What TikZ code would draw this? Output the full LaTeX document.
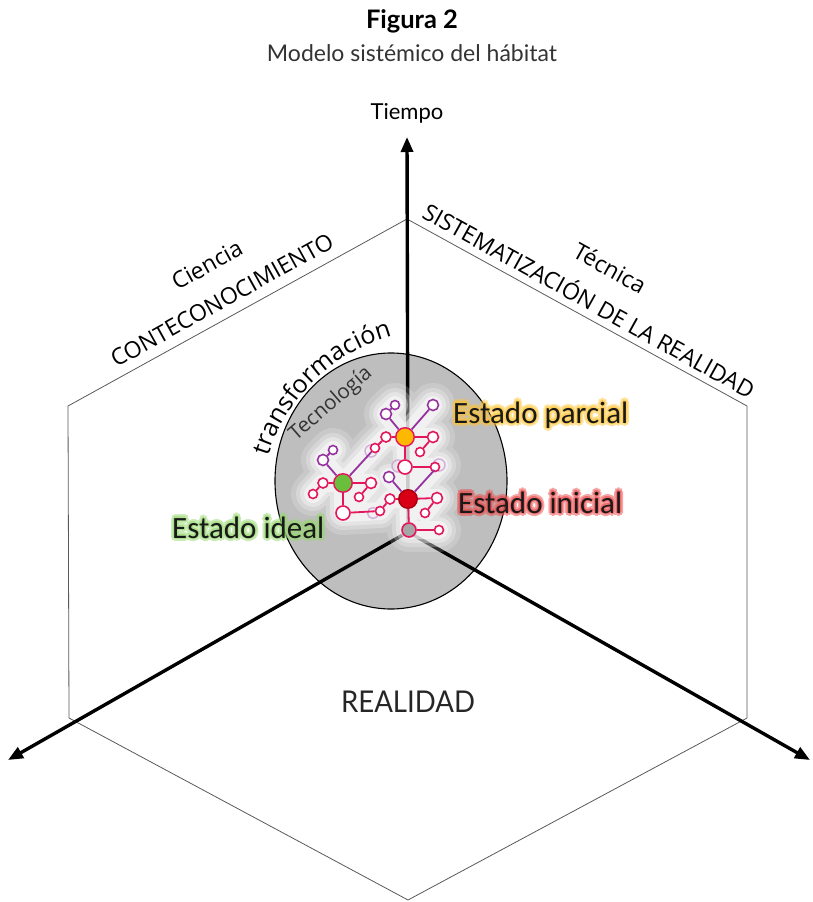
\documentclass[tikz,border=0pt]{standalone}
\usepackage{fontspec}
\setmainfont{Lato}
\newfontfamily\osf{Open Sans}
\newfontfamily\carf{Carlito}
\usetikzlibrary{arrows.meta,decorations.text}
\definecolor{diskgray}{RGB}{190,190,190}
\definecolor{netpink}{RGB}{228,22,92}
\definecolor{netpurple}{RGB}{150,50,160}
\definecolor{faintlilac}{RGB}{200,150,210}
\definecolor{ogold}{RGB}{255,184,0}
\definecolor{ired}{RGB}{215,0,20}
\definecolor{igreen}{RGB}{105,190,60}
\definecolor{glowgold}{RGB}{255,195,50}
\definecolor{glowred}{RGB}{235,70,70}
\definecolor{glowgreen}{RGB}{150,215,110}
\newcommand{\glowlabel}[4]{%
  \begin{scope}[transparency group, opacity=0.5]
  \foreach \ang in {0,45,...,315} {%
    \node[estado, text=#2, shift={(\ang:3.2pt)}] at (#1) {#3};
  }%
  \end{scope}
  \begin{scope}[transparency group, opacity=0.6]
  \foreach \ang in {22,112,202,292} {%
    \node[estado, text=#2, shift={(\ang:1.6pt)}] at (#1) {#3};
  }%
  \end{scope}
  \node[estado] (#4) at (#1) {#3};
}
\newcommand{\netglow}{(coP2) -- (coP1) -- (cO) -- (coP3) (cO) -- (coM1) -- (coM2) (cO) -- (coL1) -- (coL2) -- (cG)
 (cO) -- (cR) -- (crW1) -- (crW2) (coW1) -- (coW2) (cR) -- (crP1) (cR) -- (coWf2) (cR) -- (crM1) -- (crM2) (cR) -- (crL1) -- (crL2) -- (cgW1)
 (cG) -- (cgP1) -- (cgP2) (cG) -- (cgL1) -- (cgL2) (cG) -- (cgM1) -- (cgM2) (cG) -- (cgW1)}
\begin{document}
\begin{tikzpicture}[x=1pt,y=-1pt,
  hexline/.style={draw=black!65, line width=0.8pt},
  axis/.style={line width=3.4pt, -{Triangle[length=15pt,width=12pt]}},
  hexlabel/.style={font=\osf\fontsize{23}{27}\selectfont, inner sep=0pt},
  estado/.style={font=\carf\fontsize{31}{36}\selectfont, inner sep=0pt, anchor=base west, text=black!90},
  bignode/.style={circle, draw=netpink, line width=1.4pt, minimum size=18.5pt, inner sep=0pt},
  pnode/.style={circle, draw=netpink, fill=white, line width=1.6pt, minimum size=#1, inner sep=0pt},
  vnode/.style={circle, draw=netpurple, fill=white, line width=1.6pt, minimum size=#1, inner sep=0pt},
  fnode/.style={circle, draw=faintlilac, line width=1.5pt, minimum size=#1, inner sep=0pt, opacity=0.7},
  pedge/.style={draw=netpink, line width=1.8pt},
  vedge/.style={draw=netpurple, line width=1.8pt},
  glowline/.style={draw=white, line cap=round, line join=round}
]
\useasboundingbox (0,0) rectangle (812,902);
% title
\node[font=\bfseries\fontsize{25.5}{30}\selectfont, anchor=base] (fig) at (412,28) {Figura 2};
\node[font=\fontsize{23}{27}\selectfont, text=black!80, anchor=base] (sub) at (412,61) {Modelo sistémico del hábitat};
% hexagon
\coordinate (hT) at (407,219);
\coordinate (hUL) at (68,406);
\coordinate (hLL) at (69,718);
\coordinate (hB) at (408,900);
\coordinate (hLR) at (747,718);
\coordinate (hUR) at (747,406);
\draw[hexline] (hT) -- (hUL) -- (hLL) -- (hB) -- (hLR) -- (hUR) -- cycle;
% hexagon labels
\node[hexlabel, rotate=29] (cien) at (207,265) {Ciencia};
\node[hexlabel, rotate=29] (conte) at (222,300) {CONTECONOCIMIENTO};
\node[hexlabel, rotate=-29] (tecn) at (610,268) {Técnica};
\node[hexlabel, rotate=-29] (siste) at (590,299) {SISTEMATIZACIÓN DE LA REALIDAD};
\node[font=\fontsize{30}{34}\selectfont, anchor=base, xscale=0.92, text=black!85] (real) at (408,712) {REALIDAD};
% disk
\draw[fill=diskgray, line width=1.1pt] (391,481) ellipse [x radius=116pt, y radius=128pt];
% transformacion
\path[decorate, decoration={text along path, text align=center,
  text={|\osf\fontsize{25}{30}\selectfont|transformación}}]
  ([shift={(168:180pt)}]440,510) arc[start angle=168, end angle=100, radius=180pt];
\node[font=\osf\fontsize{20.5}{24}\selectfont, text=black!80, rotate=41] (tecno) at (331,404) {Tecnología};
% axes
\coordinate (o) at (408,532);
\coordinate (tUp) at (407,137);
\coordinate (tL) at (8,760);
\coordinate (tR) at (810,760);
\draw[axis] (o) -- (tUp);
\draw[axis] (o) -- (tL);
\draw[axis] (o) -- (tR);
\node[font=\fontsize{22}{26}\selectfont, anchor=base] (tiempo) at (407,119) {Tiempo};
% network coordinates
\coordinate (cO) at (405,437);
\coordinate (cR) at (408,499);
\coordinate (cG) at (343,483);
\coordinate (coP1) at (386,414); \coordinate (coP2) at (395,405); \coordinate (coP3) at (433,405);
\coordinate (coM1) at (433,437); \coordinate (coM2) at (420,452);
\coordinate (coL1) at (386,437); \coordinate (coL2) at (375,448); \coordinate (coF) at (371,451);
\coordinate (coW1) at (405,467); \coordinate (coW2) at (435,467);
\coordinate (coWf1) at (398,466); \coordinate (coWf2) at (439,465);
\coordinate (crP1) at (389,477);
\coordinate (crM1) at (437,498); \coordinate (crM2) at (425,513);
\coordinate (crL1) at (390,499); \coordinate (crL2) at (380,511);
\coordinate (crW1) at (409,530); \coordinate (crW2) at (439,530);
\coordinate (cgP1) at (323,460); \coordinate (cgP2) at (333,450);
\coordinate (cgL1) at (323,483); \coordinate (cgL2) at (313,494);
\coordinate (cgM1) at (371,483); \coordinate (cgM2) at (359,497);
\coordinate (cgW1) at (343,513); \coordinate (cgWf) at (373,513);
% glow
\begin{scope}[transparency group, opacity=0.18]
\draw[glowline, line width=44pt] \netglow;
\end{scope}
\begin{scope}[transparency group, opacity=0.25]
\draw[glowline, line width=34pt] \netglow;
\end{scope}
\begin{scope}[transparency group, opacity=0.35]
\draw[glowline, line width=26pt] \netglow;
\end{scope}
\begin{scope}[transparency group, opacity=0.5]
\draw[glowline, line width=18pt] \netglow;
\end{scope}
% faint nodes
\node[fnode=12pt] (oF) at (coF) {};
\node[fnode=12pt] (oWf1) at (coWf1) {};
\node[fnode=12pt] (oWf2) at (coWf2) {};
\node[fnode=11pt] (gWf) at (cgWf) {};
% nodes
\node[bignode, fill=ogold] (O) at (cO) {};
\node[bignode, fill=ired, draw=ired!80!black] (R) at (cR) {};
\node[bignode, fill=igreen] (G) at (cG) {};
\node[vnode=11pt] (oP1) at (coP1) {};
\node[vnode=9pt] (oP2) at (coP2) {};
\node[vnode=11pt] (oP3) at (coP3) {};
\node[pnode=11pt] (oM1) at (coM1) {};
\node[pnode=9pt] (oM2) at (coM2) {};
\node[pnode=10pt] (oL1) at (coL1) {};
\node[pnode=9pt] (oL2) at (coL2) {};
\node[pnode=14pt] (oW1) at (coW1) {};
\node[pnode=9pt] (oW2) at (coW2) {};
\node[vnode=11pt] (rP1) at (crP1) {};
\node[pnode=11pt] (rM1) at (crM1) {};
\node[pnode=9pt] (rM2) at (crM2) {};
\node[pnode=10pt] (rL1) at (crL1) {};
\node[pnode=9pt] (rL2) at (crL2) {};
\node[pnode=14pt, fill=gray!70] (rW1) at (crW1) {};
\node[pnode=9pt] (rW2) at (crW2) {};
\node[vnode=11pt] (gP1) at (cgP1) {};
\node[vnode=9pt] (gP2) at (cgP2) {};
\node[pnode=10pt] (gL1) at (cgL1) {};
\node[pnode=9pt] (gL2) at (cgL2) {};
\node[pnode=11pt] (gM1) at (cgM1) {};
\node[pnode=9pt] (gM2) at (cgM2) {};
\node[pnode=14pt] (gW1) at (cgW1) {};
% edges
\draw[vedge] (O) -- (oP1); \draw[vedge] (oP1) -- (oP2); \draw[vedge] (O) -- (oP3);
\draw[pedge] (O) -- (oM1); \draw[pedge] (oM1) -- (oM2);
\draw[pedge] (O) -- (oL1); \draw[pedge] (oL1) -- (oL2); \draw[vedge] (oL2) -- (G);
\draw[pedge] (O) -- (oW1); \draw[pedge] (oW1) -- (oW2);
\draw[vedge] (R) -- (rP1); \draw[vedge] (R) -- (oWf2);
\draw[pedge] (R) -- (rM1); \draw[pedge] (rM1) -- (rM2);
\draw[pedge] (R) -- (rL1); \draw[pedge] (rL1) -- (rL2); \draw[pedge] (rL2) -- (gW1);
\draw[pedge] (R) -- (rW1); \draw[pedge] (rW1) -- (rW2);
\draw[vedge] (G) -- (gP1); \draw[vedge] (gP1) -- (gP2);
\draw[pedge] (G) -- (gL1); \draw[pedge] (gL1) -- (gL2);
\draw[pedge] (G) -- (gM1); \draw[pedge] (gM1) -- (gM2);
\draw[pedge] (G) -- (gW1);
% estado labels
\glowlabel{453,423}{glowgold}{Estado parcial}{lparc}
\glowlabel{458,513}{glowred}{Estado inicial}{linic}
\glowlabel{172,538}{glowgreen}{Estado ideal}{lideal}
\end{tikzpicture}
\end{document}
